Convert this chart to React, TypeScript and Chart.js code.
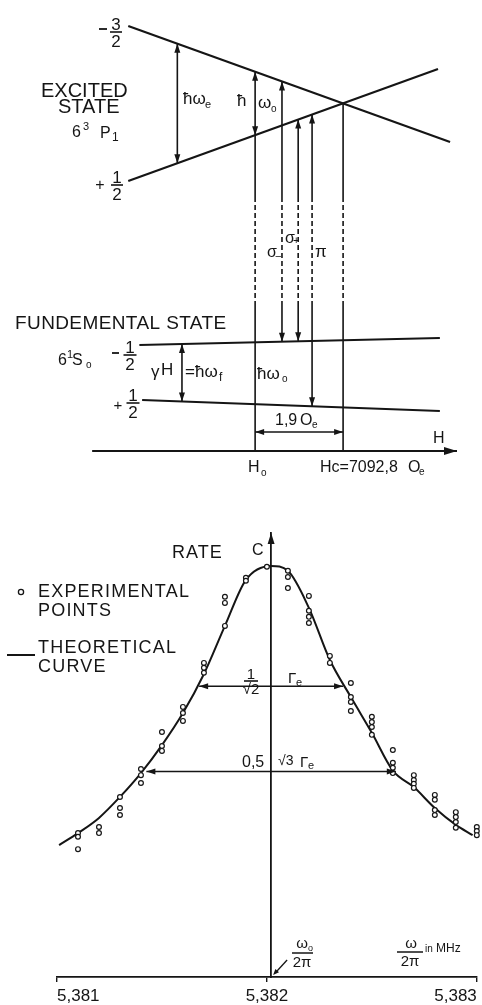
import { useEffect, useRef } from 'react';
import { Chart, registerables } from 'chart.js';

Chart.register(...registerables);

const INK = '#151515';
const FONT = '"Liberation Sans", Arial, Helvetica, sans-serif';

const PAGE_W = 482;
const TOP_H = 490;
const BOTTOM_H = 515;

/* ---------- upper panel: Zeeman levels against the field H (Oe) ---------- */
const fieldMinOe = 7085.39;
const fieldMaxOe = 7095.8;
const energyMin = 0;
const energyMax = 49;

const fieldH0 = 7090.9;
const fieldHc = 7092.8; // Hc - H0 = 1,9 Oe

// excited state 6³P₁, sublevels m = −3/2 and m = +1/2
const excitedM32H = [7088.16, 7095.11];
const excitedM32E = [46.4, 34.8];
const excitedP12H = [7088.16, 7094.85];
const excitedP12E = [30.9, 42.1];
// fundamental state 6¹S₀, sublevels m = −1/2 and m = +1/2
const groundM12H = [7088.4, 7094.89];
const groundM12E = [14.5, 15.2];
const groundP12H = [7088.46, 7094.89];
const groundP12E = [9.0, 7.9];

const fieldAxisH = [7087.38, 7095.26];
const fieldAxisE = 3.9;
const dashedBandE = [29.3, 18.7];

const omegaEFieldOe = 7089.22;
const gammaHFieldOe = 7089.32;
const transitionFieldOe = [7091.48, 7091.83, 7092.13]; // σ−, σ+, π
const spanArrowE = 5.8;

/* ---------- lower panel: rate against ω/2π (MHz) ---------- */
const freqMinMHz = 5.381;
const freqMaxMHz = 5.383;
const freqTicksMHz = [5.381, 5.382, 5.383];
const rateMax = 1.08;
const resonanceMHz = 5.38202;
const gammaEMHz = 0.000343;
const markedLevels = [Math.SQRT1_2, 0.5];
const markedHalfWidths = [1, Math.sqrt(3)]; // in units of Γe

const curveMHz = [
  5.38101, 5.3811, 5.3812, 5.3813, 5.3814, 5.3815, 5.3816, 5.3817, 5.3818, 5.3819, 5.38202,
  5.3821, 5.3822, 5.3823, 5.3824, 5.3825, 5.3826, 5.3827, 5.3828, 5.3829, 5.38298,
];
const curveRate = [
  0.321, 0.35, 0.387, 0.438, 0.496, 0.564, 0.642, 0.737, 0.854, 0.966, 1.0,
  0.988, 0.898, 0.771, 0.681, 0.594, 0.502, 0.462, 0.411, 0.37, 0.345,
];

const expMHz = [
  5.3811, 5.3812, 5.3813, 5.3814, 5.3815, 5.3816, 5.3817, 5.3818, 5.3819, 5.382,
  5.3821, 5.3822, 5.3823, 5.3824, 5.3825, 5.3826, 5.3827, 5.3828, 5.3829, 5.383,
];
const expRates = [
  [0.35, 0.341, 0.311],
  [0.365, 0.35],
  [0.438, 0.411, 0.394],
  [0.506, 0.491, 0.472],
  [0.596, 0.562, 0.55],
  [0.657, 0.642, 0.623],
  [0.764, 0.752, 0.74],
  [0.925, 0.91, 0.854],
  [0.971, 0.964],
  [0.998],
  [0.988, 0.973, 0.946],
  [0.927, 0.891, 0.876, 0.861],
  [0.781, 0.764],
  [0.715, 0.681, 0.669, 0.647],
  [0.633, 0.62, 0.608, 0.589],
  [0.552, 0.521, 0.509, 0.496],
  [0.491, 0.479, 0.47, 0.46],
  [0.443, 0.431, 0.406, 0.394],
  [0.401, 0.389, 0.377, 0.363],
  [0.365, 0.355, 0.345],
];

/* ---------- drawing helpers ---------- */
const levelAt = (H: number[], E: number[], h: number) =>
  E[0] + ((E[1] - E[0]) * (h - H[0])) / (H[1] - H[0]);
const eM32 = (h: number) => levelAt(excitedM32H, excitedM32E, h);
const eP12 = (h: number) => levelAt(excitedP12H, excitedP12E, h);
const gM12 = (h: number) => levelAt(groundM12H, groundM12E, h);
const gP12 = (h: number) => levelAt(groundP12H, groundP12E, h);

function drawText(
  ctx: CanvasRenderingContext2D,
  s: string,
  x: number,
  y: number,
  size: number,
  align: CanvasTextAlign = 'left',
  spacing = 0,
) {
  ctx.save();
  ctx.font = `${size}px ${FONT}`;
  ctx.fillStyle = INK;
  ctx.textAlign = align;
  ctx.textBaseline = 'alphabetic';
  (ctx as any).letterSpacing = `${spacing}px`;
  ctx.fillText(s, x, y);
  ctx.restore();
}

function stroke(ctx: CanvasRenderingContext2D, x1: number, y1: number, x2: number, y2: number, w = 1.6) {
  ctx.save();
  ctx.strokeStyle = INK;
  ctx.lineWidth = w;
  ctx.beginPath();
  ctx.moveTo(x1, y1);
  ctx.lineTo(x2, y2);
  ctx.stroke();
  ctx.restore();
}

function fraction(
  ctx: CanvasRenderingContext2D,
  num: string,
  den: string,
  cx: number,
  barY: number,
  halfBar: number,
  size: number,
) {
  drawText(ctx, num, cx, barY - 2.5, size, 'center');
  stroke(ctx, cx - halfBar, barY, cx + halfBar, barY, 1.6);
  drawText(ctx, den, cx, barY + 2.5 + size * 0.72, size, 'center');
}

function arrowHead(ctx: CanvasRenderingContext2D, x: number, y: number, angle: number, len = 9, half = 3) {
  ctx.save();
  ctx.translate(x, y);
  ctx.rotate(angle);
  ctx.beginPath();
  ctx.moveTo(0, 0);
  ctx.lineTo(-len, -half);
  ctx.lineTo(-len, half);
  ctx.closePath();
  ctx.fillStyle = INK;
  ctx.fill();
  ctx.restore();
}

const UP = -Math.PI / 2;
const DOWN = Math.PI / 2;
const LEFT = Math.PI;
const RIGHT = 0;

/* ---------- upper panel ---------- */
const line = (pts: { x: number; y: number }[], width = 1.6, dash: number[] = []) => ({
  type: 'line',
  data: pts,
  showLine: true,
  borderColor: INK,
  borderWidth: width,
  borderDash: dash,
  pointRadius: 0,
  tension: 0,
  fill: false,
  clip: false as const,
});

const levelLine = (H: number[], E: number[]) =>
  line([{ x: H[0], y: E[0] }, { x: H[1], y: E[1] }], 2.2);

// a vertical drawn solid, then dashed across the gap between the two states, then solid
const verticalThrough = (h: number, top: number, bottom: number) => [
  line([{ x: h, y: top }, { x: h, y: dashedBandE[0] }]),
  line([{ x: h, y: dashedBandE[0] }, { x: h, y: dashedBandE[1] }], 1.6, [5, 3]),
  line([{ x: h, y: dashedBandE[1] }, { x: h, y: bottom }]),
];

const levelNotes = {
  id: 'levelNotes',
  afterDatasetsDraw(chart: any) {
    const { ctx } = chart;
    const px = (h: number) => chart.scales.x.getPixelForValue(h);
    const py = (e: number) => chart.scales.y.getPixelForValue(e);

    const pairs: [number, number, number][] = [
      [omegaEFieldOe, eM32(omegaEFieldOe), eP12(omegaEFieldOe)],
      [fieldH0, eM32(fieldH0), eP12(fieldH0)],
      [transitionFieldOe[0], eM32(transitionFieldOe[0]), gM12(transitionFieldOe[0])],
      [transitionFieldOe[1], eP12(transitionFieldOe[1]), gM12(transitionFieldOe[1])],
      [transitionFieldOe[2], eP12(transitionFieldOe[2]), gP12(transitionFieldOe[2])],
      [gammaHFieldOe, gM12(gammaHFieldOe), gP12(gammaHFieldOe)],
    ];
    pairs.forEach(([h, eTop, eBot]) => {
      arrowHead(ctx, px(h), py(eTop), UP);
      arrowHead(ctx, px(h), py(eBot), DOWN);
    });
    arrowHead(ctx, px(fieldH0), py(spanArrowE), LEFT);
    arrowHead(ctx, px(fieldHc), py(spanArrowE), RIGHT);
    arrowHead(ctx, px(fieldAxisH[1]), py(fieldAxisE), RIGHT, 13, 4);

    // excited state labels
    stroke(ctx, 99, 29, 107, 29, 1.8);
    fraction(ctx, '3', '2', 116, 32, 6, 17);
    drawText(ctx, '+', 100, 190, 16, 'center');
    fraction(ctx, '1', '2', 117, 185, 6, 17);
    drawText(ctx, 'EXCITED', 41, 97, 20);
    drawText(ctx, 'STATE', 58, 113, 20);
    drawText(ctx, '6', 72, 137, 16);
    drawText(ctx, '3', 83, 130, 11);
    drawText(ctx, 'P', 100, 138, 16);
    drawText(ctx, '1', 112, 141, 12);

    drawText(ctx, 'ħω', 183, 104, 17);
    drawText(ctx, 'e', 205, 108, 11);
    drawText(ctx, 'ħ', 237, 106, 17);
    drawText(ctx, 'ω', 258, 108, 17);
    drawText(ctx, 'o', 271, 112, 10);

    drawText(ctx, 'σ', 267, 257, 16);
    drawText(ctx, '−', 275, 260, 11);
    drawText(ctx, 'σ', 285, 243, 16);
    drawText(ctx, '+', 293, 244, 11);
    drawText(ctx, 'π', 315, 257, 17);

    // fundamental state labels
    drawText(ctx, 'FUNDEMENTAL STATE', 15, 329, 19, 'left', 0.4);
    drawText(ctx, '6', 58, 365, 16);
    drawText(ctx, '1', 67, 358, 11);
    drawText(ctx, 'S', 72, 365, 16);
    drawText(ctx, 'o', 86, 368, 10);
    stroke(ctx, 112, 353, 119, 353, 1.8);
    fraction(ctx, '1', '2', 130, 355, 6.5, 17);
    drawText(ctx, '+', 118, 410, 15, 'center');
    fraction(ctx, '1', '2', 133, 403, 6.5, 17);

    drawText(ctx, 'γ', 151, 377, 17);
    drawText(ctx, 'H', 161, 375, 17);
    drawText(ctx, '=ħω', 185, 377, 17);
    drawText(ctx, 'f', 219, 381, 12);
    drawText(ctx, 'ħω', 257, 379, 17);
    drawText(ctx, 'o', 282, 382, 10);

    drawText(ctx, '1,9', 275, 425, 16);
    drawText(ctx, 'O', 300, 425, 16);
    drawText(ctx, 'e', 312, 428, 10);
    drawText(ctx, 'H', 433, 443, 16);
    drawText(ctx, 'H', 248, 472, 16);
    drawText(ctx, 'o', 261, 476, 10);
    drawText(ctx, 'Hc=7092,8', 320, 472, 16);
    drawText(ctx, 'O', 408, 472, 16);
    drawText(ctx, 'e', 419, 475, 10);
  },
};

function levelChartConfig(): any {
  const datasets = [
    levelLine(excitedM32H, excitedM32E),
    levelLine(excitedP12H, excitedP12E),
    levelLine(groundM12H, groundM12E),
    levelLine(groundP12H, groundP12E),
    line([{ x: fieldAxisH[0], y: fieldAxisE }, { x: fieldAxisH[1], y: fieldAxisE }], 1.8),
    ...verticalThrough(fieldH0, eM32(fieldH0), fieldAxisE),
    ...verticalThrough(fieldHc, eM32(fieldHc), fieldAxisE),
    ...verticalThrough(transitionFieldOe[0], eM32(transitionFieldOe[0]), gM12(transitionFieldOe[0])),
    ...verticalThrough(transitionFieldOe[1], eP12(transitionFieldOe[1]), gM12(transitionFieldOe[1])),
    ...verticalThrough(transitionFieldOe[2], eP12(transitionFieldOe[2]), gP12(transitionFieldOe[2])),
    line([
      { x: omegaEFieldOe, y: eM32(omegaEFieldOe) },
      { x: omegaEFieldOe, y: eP12(omegaEFieldOe) },
    ]),
    line([
      { x: gammaHFieldOe, y: gM12(gammaHFieldOe) },
      { x: gammaHFieldOe, y: gP12(gammaHFieldOe) },
    ]),
    line([{ x: fieldH0, y: spanArrowE }, { x: fieldHc, y: spanArrowE }], 1.4),
  ];
  return {
    type: 'scatter',
    data: { datasets },
    options: {
      animation: false,
      responsive: false,
      layout: { padding: 0 },
      plugins: { legend: { display: false }, tooltip: { enabled: false } },
      scales: {
        x: { type: 'linear', display: false, min: fieldMinOe, max: fieldMaxOe },
        y: { type: 'linear', display: false, min: energyMin, max: energyMax },
      },
    },
    plugins: [levelNotes],
  };
}

/* ---------- lower panel ---------- */
const rateNotes = {
  id: 'rateNotes',
  afterDatasetsDraw(chart: any) {
    const { ctx } = chart;
    const sx = chart.scales.x;
    const sy = chart.scales.y;
    const x0 = sx.getPixelForValue(resonanceMHz);

    arrowHead(ctx, x0, sy.getPixelForValue(rateMax), UP, 11, 3.5);
    markedLevels.forEach((lv, i) => {
      const w = markedHalfWidths[i] * gammaEMHz;
      arrowHead(ctx, sx.getPixelForValue(resonanceMHz - w), sy.getPixelForValue(lv), LEFT);
      arrowHead(ctx, sx.getPixelForValue(resonanceMHz + w), sy.getPixelForValue(lv), RIGHT);
    });

    // small pointer to the resonance on the frequency axis
    const tipX = x0 + 2;
    const tipY = sy.getPixelForValue(0) - 2;
    stroke(ctx, tipX + 14, tipY - 15, tipX + 3, tipY - 3, 1.3);
    arrowHead(ctx, tipX, tipY, Math.atan2(15, -14), 6, 2.5);

    drawText(ctx, 'RATE', 172, 68, 18, 'left', 1);
    drawText(ctx, 'C', 252, 65, 16);

    // key
    ctx.save();
    ctx.strokeStyle = INK;
    ctx.lineWidth = 1.3;
    ctx.beginPath();
    ctx.arc(21, 102, 2.6, 0, Math.PI * 2);
    ctx.stroke();
    ctx.restore();
    drawText(ctx, 'EXPERIMENTAL', 38, 107, 18, 'left', 1.2);
    drawText(ctx, 'POINTS', 38, 126, 18, 'left', 1.2);
    stroke(ctx, 7, 165, 35, 165, 2);
    drawText(ctx, 'THEORETICAL', 38, 163, 18, 'left', 1.2);
    drawText(ctx, 'CURVE', 38, 182, 18, 'left', 1.2);

    fraction(ctx, '1', '√2', 251, 191, 7, 15);
    drawText(ctx, 'Γ', 288, 193, 15);
    drawText(ctx, 'e', 296, 196, 11);
    drawText(ctx, '0,5', 242, 277, 16);
    drawText(ctx, '√3', 278, 275, 14);
    drawText(ctx, 'Γ', 300, 277, 15);
    drawText(ctx, 'e', 308, 279, 11);

    drawText(ctx, 'ω', 302, 458, 15, 'center');
    drawText(ctx, 'o', 308, 461, 9);
    stroke(ctx, 292, 463, 313, 463, 1.5);
    drawText(ctx, '2π', 302, 477, 15, 'center');
    drawText(ctx, 'ω', 411, 458, 15, 'center');
    stroke(ctx, 397, 462, 423, 462, 1.5);
    drawText(ctx, '2π', 410, 476, 15, 'center');
    drawText(ctx, 'in', 425, 462, 10);
    drawText(ctx, 'MHz', 436, 462, 12);
  },
};

function rateChartConfig(): any {
  const expPoints = expMHz.flatMap((f, i) => expRates[i].map((r) => ({ x: f, y: r })));
  const curve = curveMHz.map((f, i) => ({ x: f, y: curveRate[i] }));
  const widthLines = markedLevels.map((lv, i) => {
    const w = markedHalfWidths[i] * gammaEMHz;
    return line([{ x: resonanceMHz - w, y: lv }, { x: resonanceMHz + w, y: lv }], 1.5);
  });
  return {
    type: 'scatter',
    data: {
      datasets: [
        {
          label: 'EXPERIMENTAL POINTS',
          data: expPoints,
          showLine: false,
          pointRadius: 2.4,
          pointBorderWidth: 1.2,
          pointBackgroundColor: '#ffffff',
          pointBorderColor: INK,
          clip: false,
        },
        {
          label: 'THEORETICAL CURVE',
          type: 'line',
          data: curve,
          showLine: true,
          borderColor: INK,
          borderWidth: 2,
          pointRadius: 0,
          fill: false,
          cubicInterpolationMode: 'monotone',
          clip: false,
        },
        ...widthLines,
      ],
    },
    options: {
      animation: false,
      responsive: false,
      layout: { padding: { top: 43, left: 57, right: 5, bottom: 0 } },
      plugins: { legend: { display: false }, tooltip: { enabled: false } },
      scales: {
        x: {
          type: 'linear',
          min: freqMinMHz,
          max: freqMaxMHz,
          afterBuildTicks: (s: any) => {
            s.ticks = freqTicksMHz.map((v) => ({ value: v }));
          },
          afterFit: (s: any) => {
            s.height = 28;
          },
          grid: { display: true, drawOnChartArea: false, drawTicks: true, tickLength: 5, color: INK, lineWidth: 1.4 },
          border: { display: true, color: INK, width: 1.8 },
          ticks: {
            autoSkip: false,
            maxRotation: 0,
            align: 'inner',
            padding: 4,
            color: INK,
            font: { family: FONT, size: 17 },
            callback: (v: number) => Number(v).toFixed(3).replace('.', ','),
          },
        },
        y: {
          type: 'linear',
          min: 0,
          max: rateMax,
          position: { x: resonanceMHz },
          grid: { display: false },
          border: { display: true, color: INK, width: 1.8 },
          ticks: { display: false },
        },
      },
    },
    plugins: [rateNotes],
  };
}

export default function App() {
  const topRef = useRef<HTMLCanvasElement>(null);
  const bottomRef = useRef<HTMLCanvasElement>(null);

  useEffect(() => {
    const top = new Chart(topRef.current as HTMLCanvasElement, levelChartConfig());
    const bottom = new Chart(bottomRef.current as HTMLCanvasElement, rateChartConfig());
    return () => {
      top.destroy();
      bottom.destroy();
    };
  }, []);

  return (
    <div style={{ position: 'absolute', left: 0, top: 0, width: PAGE_W, height: TOP_H + BOTTOM_H, background: '#ffffff' }}>
      <canvas ref={topRef} width={PAGE_W} height={TOP_H} style={{ display: 'block', width: PAGE_W, height: TOP_H }} />
      <canvas ref={bottomRef} width={PAGE_W} height={BOTTOM_H} style={{ display: 'block', width: PAGE_W, height: BOTTOM_H }} />
    </div>
  );
}
